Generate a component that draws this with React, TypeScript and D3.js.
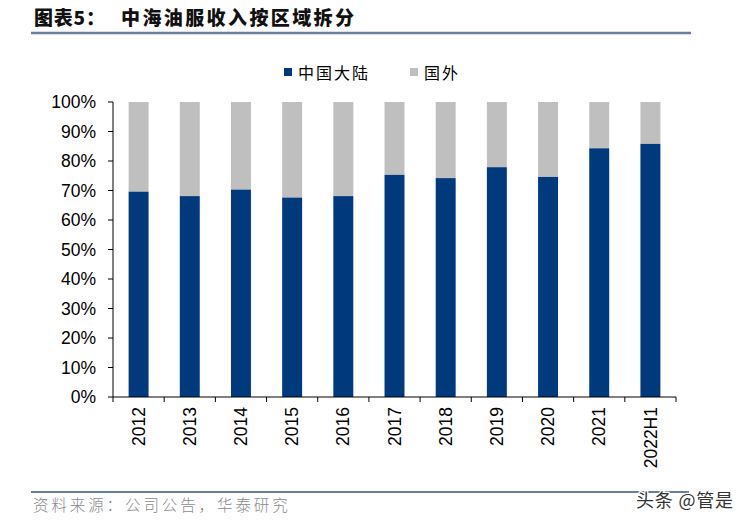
import React from "react";
import * as d3 from "d3";

const categories = ["2012", "2013", "2014", "2015", "2016", "2017", "2018", "2019", "2020", "2021", "2022H1"];
const mainland = [0.696, 0.681, 0.703, 0.676, 0.681, 0.753, 0.742, 0.779, 0.746, 0.843, 0.858];
const yTicks = [0, 0.1, 0.2, 0.3, 0.4, 0.5, 0.6, 0.7, 0.8, 0.9, 1.0];
const seriesNames = ["中国大陆", "国外"];
const colors = ["#003A7D", "#BFBFBF"];

const W = 751;
const H = 527;
const left = 113;
const right = 676;
const top = 102;
const bottom = 397;

export default function App() {
  const x = d3.scaleBand<string>().domain(categories).range([left, right]).paddingInner(0.61).paddingOuter(0.305);
  const y = d3.scaleLinear().domain([0, 1]).range([bottom, top]);
  const bw = x.bandwidth();
  const fmt = d3.format(".0%");
  const boundaries = d3.range(categories.length + 1).map((i) => left + i * ((right - left) / categories.length));
  const cjk = '"Noto Sans CJK SC", "Noto Sans", sans-serif';
  const num = '"Liberation Sans", Arial, sans-serif';

  return (
    <svg width={W} height={H} style={{ position: "absolute", left: 0, top: 0, background: "#fff" }}>
      <rect x={0} y={0} width={W} height={H} fill="#fff" />
      {/* Title */}
      <text x={34} y={25} fontFamily={cjk} fontWeight={900} fontSize={19} letterSpacing={0.8} fill="#111">图表5：</text>
      <text x={121} y={25} fontFamily={cjk} fontWeight={900} fontSize={19} letterSpacing={2.4} fill="#111">中海油服收入按区域拆分</text>
      <line x1={31} x2={691} y1={33} y2={33} stroke="#6A7E9F" strokeWidth={2.5} />

      {/* Legend */}
      <rect x={284} y={68} width={8} height={8} fill={colors[0]} />
      <text x={298} y={78.5} fontFamily={cjk} fontSize={16} letterSpacing={2} fill="#000">{seriesNames[0]}</text>
      <rect x={410} y={68} width={8} height={8} fill={colors[1]} />
      <text x={424} y={78.5} fontFamily={cjk} fontSize={16} letterSpacing={2} fill="#000">{seriesNames[1]}</text>

      {/* Bars */}
      {categories.map((c, i) => (
        <g key={c}>
          <rect x={x(c)} y={y(1)} width={bw} height={y(mainland[i]) - y(1)} fill={colors[1]} />
          <rect x={x(c)} y={y(mainland[i])} width={bw} height={y(0) - y(mainland[i])} fill={colors[0]} />
        </g>
      ))}

      {/* Y axis */}
      <line x1={left} x2={left} y1={y(1)} y2={y(0)} stroke="#000" strokeWidth={1} />
      {yTicks.map((t) => (
        <g key={t}>
          <line x1={left - 5} x2={left} y1={y(t)} y2={y(t)} stroke="#000" strokeWidth={1} />
          <text x={left - 17} y={y(t)} dy="0.35em" textAnchor="end" fontFamily={num} fontSize={17.5} fill="#000">{fmt(t)}</text>
        </g>
      ))}

      {/* X axis */}
      <line x1={left} x2={right} y1={y(0)} y2={y(0)} stroke="#000" strokeWidth={1} />
      {boundaries.map((b, i) => (
        <line key={i} x1={b} x2={b} y1={y(0)} y2={y(0) + 5} stroke="#000" strokeWidth={1} />
      ))}
      {categories.map((c) => {
        const cx = (x(c) as number) + bw / 2;
        const ty = y(0) + 10;
        return (
          <text key={c} transform={`translate(${cx},${ty}) rotate(-90)`} textAnchor="end" dy="0.35em" fontFamily={num} fontSize={17.5} fill="#000">{c}</text>
        );
      })}

      {/* Footer */}
      <line x1={31} x2={689} y1={492} y2={492} stroke="#6A7E9F" strokeWidth={2} />
      <text x={33} y={511} fontFamily={cjk} fontWeight={300} fontSize={15.5} letterSpacing={2.9} fill="#8A8A8A">资料来源：公司公告，华泰研究</text>
      <text x={636} y={507} fontFamily={cjk} fontSize={18} letterSpacing={0.8} fill="#333" stroke="#fff" strokeWidth={2.5} paintOrder="stroke">头条 @管是</text>
    </svg>
  );
}
